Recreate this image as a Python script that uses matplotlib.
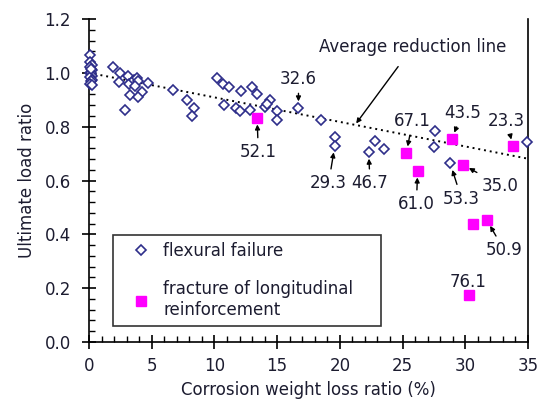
import matplotlib.pyplot as plt
from matplotlib.ticker import MultipleLocator

# flexural failure specimens (open diamonds)
flex_x = [0.1, 0.1, 0.2, 0.1, 0.2, 0.1, 0.15, 0.2, 0.1, 0.2, 0.15, 0.1, 0.2, 0.15,
          1.9, 2.5, 2.4, 3.1, 3.2, 3.3, 2.9, 3.6, 3.8, 3.9, 3.7, 4.2, 3.9, 4.7,
          6.7, 7.8, 8.4, 8.2,
          10.2, 10.7, 11.2, 10.8, 12.1, 11.7, 12.0, 12.8, 13.0, 13.4,
          14.0, 14.4, 14.2, 15.0, 15.0, 16.7,
          18.5, 19.6, 19.6, 22.3, 22.8, 23.5,
          27.6, 27.5, 28.8, 34.9]
flex_y = [1.065, 1.04, 1.03, 1.02, 1.01, 1.00, 1.00, 0.99, 0.985, 0.975, 0.97, 0.96, 0.955, 1.015,
          1.022, 0.999, 0.967, 0.989, 0.958, 0.918, 0.862, 0.973, 0.98, 0.97, 0.952, 0.93, 0.911, 0.964,
          0.936, 0.899, 0.869, 0.838,
          0.979, 0.96, 0.946, 0.881, 0.931, 0.871, 0.857, 0.862, 0.946, 0.923,
          0.874, 0.899, 0.885, 0.859, 0.826, 0.868,
          0.826, 0.763, 0.730, 0.707, 0.748, 0.717,
          0.785, 0.726, 0.664, 0.742]

# fracture of longitudinal reinforcement (filled squares)
frac_x = [13.4, 25.3, 26.2, 28.9, 29.8, 33.8, 30.6, 31.7, 30.3]
frac_y = [0.834, 0.701, 0.637, 0.754, 0.659, 0.727, 0.437, 0.454, 0.174]

# labelled values: text, point it refers to, where the text sits
labels = ["32.6", "52.1", "29.3", "46.7", "67.1", "61.0", "43.5", "53.3", "35.0", "23.3", "50.9"]
lab_px = [16.7, 13.4, 19.6, 22.3, 25.3, 26.2, 28.9, 28.8, 29.8, 33.8, 31.7]
lab_py = [0.868, 0.834, 0.730, 0.707, 0.701, 0.637, 0.754, 0.664, 0.659, 0.727, 0.454]
lab_tx = [16.7, 13.5, 19.1, 22.4, 25.8, 26.1, 29.8, 29.7, 32.8, 33.3, 33.1]
lab_ty = [0.978, 0.705, 0.589, 0.589, 0.822, 0.511, 0.852, 0.532, 0.581, 0.822, 0.341]

avg_x = [0, 35]
avg_y = [1.0, 0.681]

txt = '#1c1c30'
plt.rcParams['font.family'] = ['DejaVu Sans']

fig = plt.figure(figsize=(5.41, 4.07), dpi=100)
ax = fig.add_axes([0.1645, 0.1597, 0.8115, 0.7936])

ax.plot(avg_x, avg_y, linestyle=(0, (1, 2)), color='black', lw=1.4)
ax.plot(flex_x, flex_y, 'D', ms=5, mfc='white', mec='#2e2e8a', mew=1.2,
        linestyle='none', label='flexural failure', zorder=3, clip_on=False)
ax.plot(frac_x, frac_y, 's', ms=7, mfc='#ff00ff', mec='#ff00ff',
        linestyle='none', label='fracture of longitudinal    \nreinforcement', zorder=4)

arrow = dict(arrowstyle='-|>', color='black', lw=1.0, mutation_scale=7, shrinkA=2, shrinkB=5)
for t, px, py, tx, ty in zip(labels, lab_px, lab_py, lab_tx, lab_ty):
    ax.annotate(t, xy=(px, py), xytext=(tx, ty), ha='center', va='center',
                fontsize=12, color=txt, arrowprops=arrow)
ax.text(30.25, 0.223, "76.1", ha='center', va='center', fontsize=12, color=txt)
ax.annotate("Average reduction line", xy=(21.3, 0.812), xytext=(25.8, 1.096),
            ha='center', va='center', fontsize=12, color=txt,
            arrowprops=dict(arrowstyle='-|>', color='black', lw=1.0, mutation_scale=7,
                            shrinkA=7, shrinkB=0))

ax.set_xlim(0, 35)
ax.set_ylim(0, 1.2)
ax.xaxis.set_major_locator(MultipleLocator(5))
ax.xaxis.set_minor_locator(MultipleLocator(1))
ax.yaxis.set_major_locator(MultipleLocator(0.2))
ax.yaxis.set_minor_locator(MultipleLocator(0.04))
ax.yaxis.set_major_formatter(plt.FormatStrFormatter('%.1f'))
ax.tick_params(which='major', direction='inout', length=10, width=1.2, labelsize=12,
               labelcolor=txt, pad=6)
ax.tick_params(axis='y', which='major', pad=8)
ax.tick_params(which='minor', direction='in', length=4, width=1.0)
ax.spines['top'].set_visible(False)
for s in ['left', 'bottom', 'right']:
    ax.spines[s].set_linewidth(1.2)

ax.set_xlabel('Corrosion weight loss ratio (%)', fontsize=12, color=txt, labelpad=4)
ax.set_ylabel('Ultimate load ratio', fontsize=12, color=txt, labelpad=6)

leg = ax.legend(loc='lower left', bbox_to_anchor=(0.055, 0.05), fontsize=12,
                frameon=True, fancybox=False, edgecolor='black', handlelength=2.6,
                handletextpad=0.0, labelspacing=1.2, borderpad=0.4, labelcolor=txt,
                borderaxespad=0)
leg.get_frame().set_linewidth(1.2)
leg.get_texts()[1].set_linespacing(1.25)

fig.savefig('out.png', dpi=100)
